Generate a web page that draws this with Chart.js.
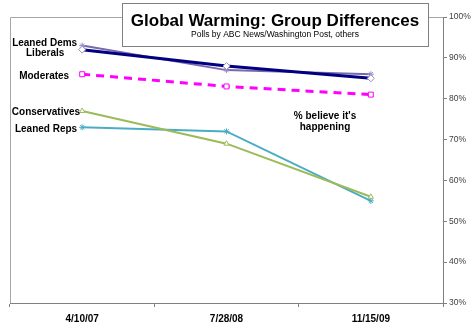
<!DOCTYPE html>
<html>
<head>
<meta charset="utf-8">
<script src="https://cdn.jsdelivr.net/npm/chart.js@4/dist/chart.umd.min.js"></script>
<style>
  html, body { margin: 0; padding: 0; background: #fff; }
  #wrap { position: relative; width: 473px; height: 327px; }
</style>
</head>
<body>
<div id="wrap"><canvas id="lineChart" width="473" height="327"></canvas></div>
<script>
'use strict'

// Poll dates
var pollDates = ['4/10/07', '7/28/08', '11/15/09'];

// % who believe warming is happening, per group
var liberals      = [92, 88, 85];
var leanedDems    = [93, 87, 86];
var moderates     = [86, 83, 81];
var conservatives = [77, 69, 56];
var leanedReps    = [73, 72, 55];

// Right axis ticks
var yTicks = [30, 40, 50, 60, 70, 80, 90, 100];

var FONT = "'Liberation Sans', Arial, sans-serif";

// Group names written beside the first point of each line
var seriesLabels = [
  { text: 'Leaned Dems',   ds: 1, dx: -5,  dy: -2, align: 'right' },
  { text: 'Liberals',      ds: 0, dx: -37, dy: 4,  align: 'center' },
  { text: 'Moderates',     ds: 2, dx: -13, dy: 2,  align: 'right' },
  { text: 'Conservatives', ds: 3, dx: -2,  dy: 1,  align: 'right' },
  { text: 'Leaned Reps',   ds: 4, dx: -5,  dy: 2,  align: 'right' }
];

var decorations = {
  id: 'decorations',
  beforeDatasetsDraw: function(chart) {
    var ctx = chart.ctx, a = chart.chartArea;
    ctx.save();
    // plot frame (left and top edges)
    ctx.strokeStyle = '#a6a6a6';
    ctx.lineWidth = 1;
    ctx.beginPath();
    ctx.moveTo(a.left + 0.5, a.bottom);
    ctx.lineTo(a.left + 0.5, a.top + 0.5);
    ctx.lineTo(a.right, a.top + 0.5);
    ctx.stroke();
    ctx.restore();
  },
  afterDraw: function(chart) {
    var ctx = chart.ctx, a = chart.chartArea;
    ctx.save();

    // series names
    ctx.fillStyle = '#000';
    ctx.font = 'bold 10px ' + FONT;
    ctx.textBaseline = 'middle';
    seriesLabels.forEach(function(l) {
      var pt = chart.getDatasetMeta(l.ds).data[0];
      ctx.textAlign = l.align;
      ctx.fillText(l.text, pt.x + l.dx, pt.y + l.dy);
    });

    // note in the plot
    ctx.textAlign = 'center';
    ctx.fillText("% believe it's", 325, 116);
    ctx.fillText('happening', 325, 127);

    // title box
    var bx = 122, by = 3, bw = 306, bh = 43;
    ctx.fillStyle = '#fff';
    ctx.fillRect(bx, by, bw, bh);
    ctx.strokeStyle = '#808080';
    ctx.lineWidth = 1;
    ctx.strokeRect(bx + 0.5, by + 0.5, bw, bh);
    ctx.fillStyle = '#000';
    ctx.font = 'bold 17px ' + FONT;
    ctx.fillText('Global Warming: Group Differences', bx + bw / 2, 21);
    ctx.font = '8.5px ' + FONT;
    ctx.fillText('Polls by ABC News/Washington Post, others', bx + bw / 2, 35);

    ctx.restore();
  }
};

var chart = new Chart(document.getElementById('lineChart'), {
  type: 'line',
  data: {
    labels: pollDates,
    datasets: [
      {
        label: 'Liberals',
        data: liberals,
        borderColor: '#000080',
        borderWidth: 3,
        pointStyle: 'rectRot',
        pointRadius: 3.5,
        pointBackgroundColor: '#fff',
        pointBorderColor: '#9a92c8',
        pointBorderWidth: 1
      },
      {
        label: 'Leaned Dems',
        data: leanedDems,
        borderColor: '#7a68ae',
        borderWidth: 2,
        pointStyle: 'star',
        pointRadius: 3,
        pointBorderColor: '#9a92c8',
        pointBorderWidth: 1
      },
      {
        label: 'Moderates',
        data: moderates,
        borderColor: '#ff00ff',
        borderWidth: 3,
        borderDash: [8, 6],
        pointStyle: 'rect',
        pointRadius: 3.5,
        pointBackgroundColor: '#fff',
        pointBorderColor: '#ff00ff',
        pointBorderWidth: 1
      },
      {
        label: 'Conservatives',
        data: conservatives,
        borderColor: '#9bbb59',
        borderWidth: 2,
        pointStyle: 'triangle',
        pointRadius: 3,
        pointBackgroundColor: '#fff',
        pointBorderColor: '#9bbb59',
        pointBorderWidth: 1
      },
      {
        label: 'Leaned Reps',
        data: leanedReps,
        borderColor: '#4bacc6',
        borderWidth: 2,
        pointStyle: 'star',
        pointRadius: 3,
        pointBorderColor: '#4bacc6',
        pointBorderWidth: 1
      }
    ]
  },
  options: {
    responsive: false,
    animation: false,
    events: [],
    layout: { padding: { left: 10, top: 17, right: 0, bottom: 0 } },
    plugins: {
      legend: { display: false },
      tooltip: { enabled: false }
    },
    elements: { line: { tension: 0 } },
    scales: {
      x: {
        offset: true,
        grid: {
          offset: true,
          drawOnChartArea: false,
          drawTicks: true,
          tickLength: 4,
          color: '#808080'
        },
        border: { color: '#808080', width: 1 },
        ticks: {
          color: '#000',
          padding: 6,
          font: { family: FONT, size: 10, weight: 'bold' },
          maxRotation: 0
        },
        afterFit: function(s) { s.height = 24; }
      },
      y: {
        position: 'right',
        min: 30,
        max: 100,
        afterBuildTicks: function(s) {
          s.ticks = yTicks.map(function(v) { return { value: v }; });
        },
        grid: {
          drawOnChartArea: false,
          drawTicks: true,
          tickLength: 4,
          color: '#808080'
        },
        border: { color: '#808080', width: 1 },
        ticks: {
          color: '#404040',
          padding: 2,
          font: { family: FONT, size: 8.5 },
          callback: function(v) { return v + '%'; }
        },
        afterFit: function(s) { s.width = 30; }
      }
    }
  },
  plugins: [decorations]
});
</script>
</body>
</html>
